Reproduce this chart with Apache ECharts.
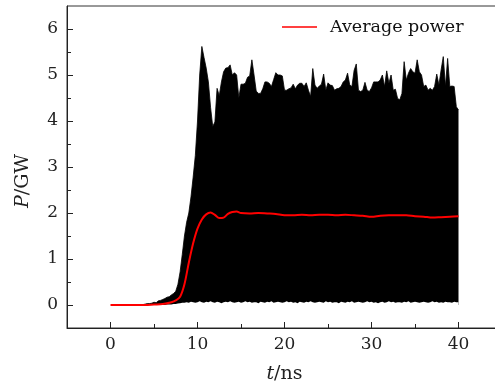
<!DOCTYPE html>
<html>
<head>
<meta charset="utf-8">
<script src="https://cdn.jsdelivr.net/npm/echarts@6/dist/echarts.min.js"></script>
<style>
html,body{margin:0;padding:0;background:#fff;}
#c{width:495px;height:387px;}
</style>
</head>
<body>
<div id="c"></div>
<script>
// Instantaneous power envelope
var sigT = [3.75,4,4.25,4.5,4.75,5,5.25,5.5,5.75,6,6.25,6.5,6.75,7,7.25,7.5,7.75,8,8.25,8.5,8.75,9,9.25,9.5,9.75,10,10.25,10.5,10.75,11,11.25,11.5,11.75,12,12.25,12.5,12.75,13,13.25,13.5,13.75,14,14.25,14.5,14.75,15,15.25,15.5,15.75,16,16.25,16.5,16.75,17,17.25,17.5,17.75,18,18.25,18.5,18.75,19,19.25,19.5,19.75,20,20.25,20.5,20.75,21,21.25,21.5,21.75,22,22.25,22.5,22.75,23,23.25,23.5,23.75,24,24.25,24.5,24.75,25,25.25,25.5,25.75,26,26.25,26.5,26.75,27,27.25,27.5,27.75,28,28.25,28.5,28.75,29,29.25,29.5,29.75,30,30.25,30.5,30.75,31,31.25,31.5,31.75,32,32.25,32.5,32.75,33,33.25,33.5,33.75,34,34.25,34.5,34.75,35,35.25,35.5,35.75,36,36.25,36.5,36.75,37,37.25,37.5,37.75,38,38.25,38.5,38.75,39,39.25,39.5,39.75,40];
var sigMax = [0.01,0.02,0.03,0.03,0.04,0.06,0.05,0.09,0.1,0.12,0.14,0.17,0.18,0.22,0.25,0.3,0.45,
0.72,1.1,1.5,1.8,2.0,2.35,2.78,3.25,4.0,5.0,5.62,5.38,5.15,4.85,4.3,3.88,
3.98,4.71,4.55,4.85,5.07,5.15,5.16,5.22,
5.0,5.05,5.0,4.5,4.8,4.8,4.82,4.95,
4.98,5.33,5.0,4.65,4.6,4.6,4.7,4.85,
4.85,4.82,4.75,4.9,5.05,5.0,5.0,4.98,
4.67,4.67,4.7,4.72,4.8,4.7,4.78,4.82,
4.82,4.75,4.83,4.67,4.53,5.14,4.78,4.71,
4.76,4.8,5.02,4.67,4.83,4.78,4.77,4.67,
4.7,4.71,4.75,4.85,4.89,5.04,4.78,4.75,
5.1,5.24,4.67,4.64,4.67,4.84,4.67,4.64,
4.72,4.85,4.85,4.85,4.89,5.0,4.75,5.09,
4.82,5.0,4.67,4.69,4.49,4.46,4.6,5.29,
4.89,5.04,5.14,5.07,5.04,5.33,5.07,5.0,
4.75,4.78,4.67,4.71,4.67,4.75,5.02,4.78,
5.11,5.4,4.75,5.36,4.75,4.76,4.75,4.31,
4.24];
var sigMin = [0,0,0,0,0,0,0,0,0,0,0,0.01,0.01,0.01,0.02,0.02,0.03,
0.04,0.05,0.05,0.06,0.05,0.07,0.06,0.05,
0.06,0.08,0.06,0.05,0.07,0.06,0.08,0.06,
0.05,0.07,0.06,0.04,0.06,0.07,0.06,0.08,
0.06,0.05,0.06,0.07,0.05,0.06,0.08,0.06,
0.07,0.05,0.06,0.06,0.04,0.07,0.06,0.05,
0.07,0.06,0.08,0.05,0.06,0.07,0.06,0.05,
0.06,0.08,0.06,0.07,0.05,0.06,0.04,0.07,
0.06,0.05,0.07,0.06,0.08,0.06,0.05,0.06,
0.07,0.06,0.05,0.08,0.06,0.07,0.05,0.06,
0.06,0.04,0.07,0.06,0.05,0.07,0.06,0.08,
0.05,0.06,0.07,0.06,0.05,0.06,0.08,0.06,
0.07,0.05,0.06,0.04,0.06,0.07,0.05,0.06,
0.08,0.06,0.07,0.05,0.06,0.06,0.05,0.07,
0.06,0.08,0.05,0.06,0.07,0.06,0.05,0.06,
0.07,0.06,0.05,0.06,0.08,0.06,0.07,0.05,
0.06,0.05,0.07,0.06,0.06,0.05,0.07,0.06,
0.06];

// Average power (red)
var avgT = [0,4,5,6,7,7.5,8,8.5,9,9.5,10,10.5,11,11.5,12,12.5,13,13.5,14,14.5,15,16,17,18,19,20,21,22,23,24,25,26,27,28,29,30,31,32,33,34,35,36,37,38,39,40];
var avgP = [0,0,0.01,0.02,0.06,0.1,0.18,0.45,0.92,1.34,1.66,1.86,1.97,2.01,1.96,1.89,1.9,1.98,2.02,2.03,2.0,1.99,2.0,1.99,1.98,1.95,1.95,1.96,1.95,1.96,1.96,1.95,1.96,1.95,1.94,1.92,1.94,1.95,1.95,1.95,1.93,1.92,1.9,1.91,1.92,1.93];

// Tick labels
var xMajor = [0,10,20,30,40];
var xMinor = [5,15,25,35];
var yMajor = [0,1,2,3,4,5,6];
var yMinor = [0.5,1.5,2.5,3.5,4.5,5.5];

var FONT = 'DejaVu Serif';
var AX = '#222';

var maxData = sigT.map(function(t,i){return [t, sigMax[i]];});
var minData = sigT.map(function(t,i){return [t, sigMin[i]];});
var avgData = avgT.map(function(t,i){return [t, avgP[i]];});

var chart = echarts.init(document.getElementById('c'), null, {renderer:'canvas'});
chart.setOption({
  animation:false,
  backgroundColor:'#fff',
  grid:{left:67, top:6, right:-7, bottom:59, show:true, borderColor:'#333', borderWidth:1,
        backgroundColor:'transparent', containLabel:false, outerBoundsMode:'none'},
  legend:{
    data:['Average power'], left:282, top:18, padding:0, icon:'rect', itemWidth:35, itemHeight:1.5,
    inactiveColor:'#222',
    textStyle:{fontFamily:FONT, fontSize:17.5, color:'#111', padding:[0,0,0,8]}
  },
  xAxis:[
    {type:'value', min:-5, max:45, position:'bottom',
     axisLine:{show:true, onZero:false, lineStyle:{color:AX, width:1}},
     axisTick:{show:true, inside:true, length:6, customValues:xMajor, lineStyle:{color:AX}},
     axisLabel:{show:true, customValues:xMajor, margin:8, fontFamily:FONT, fontSize:17, color:AX},
     splitLine:{show:false},
     name:'{i|t}/ns', nameLocation:'middle', nameGap:37,
     nameTextStyle:{fontFamily:FONT, fontSize:19, color:AX, rich:{i:{fontFamily:FONT, fontStyle:'italic', fontSize:19, color:AX}}}
    },
    {type:'value', min:-5, max:45, position:'bottom',
     axisLine:{show:false, onZero:false},
     axisTick:{show:true, inside:true, length:4, customValues:xMinor, lineStyle:{color:AX}},
     axisLabel:{show:false}, splitLine:{show:false}
    }
  ],
  yAxis:[
    {type:'value', min:-0.5, max:6.5, position:'left',
     axisLine:{show:true, onZero:false, lineStyle:{color:AX, width:1}},
     axisTick:{show:true, inside:true, length:6, customValues:yMajor, lineStyle:{color:AX}},
     axisLabel:{show:true, customValues:yMajor, margin:9, fontFamily:FONT, fontSize:17, color:AX},
     splitLine:{show:false},
     name:'{i|P}/GW', nameLocation:'middle', nameGap:34, nameRotate:90,
     nameTextStyle:{fontFamily:FONT, fontSize:19, color:AX, padding:[0,28,0,0], rich:{i:{fontFamily:FONT, fontStyle:'italic', fontSize:19, color:AX}}}
    },
    {type:'value', min:-0.5, max:6.5, position:'left',
     axisLine:{show:false, onZero:false},
     axisTick:{show:true, inside:true, length:4, customValues:yMinor, lineStyle:{color:AX}},
     axisLabel:{show:false}, splitLine:{show:false}
    }
  ],
  series:[
    {name:'signal', type:'line', data:maxData, symbol:'none',
     lineStyle:{color:'#000', width:0.8}, areaStyle:{color:'#000', opacity:1, origin:0}, silent:true, z:2},
    {name:'floor', type:'line', data:minData, symbol:'none',
     lineStyle:{color:'#fff', width:0}, areaStyle:{color:'#fff', opacity:1, origin:0}, silent:true, z:3},
    {name:'Average power', type:'line', data:avgData, symbol:'none', smooth:0.3,
     lineStyle:{color:'#ff0000', width:2}, itemStyle:{color:'#ff0000'}, z:5}
  ]
});
</script>
</body>
</html>
